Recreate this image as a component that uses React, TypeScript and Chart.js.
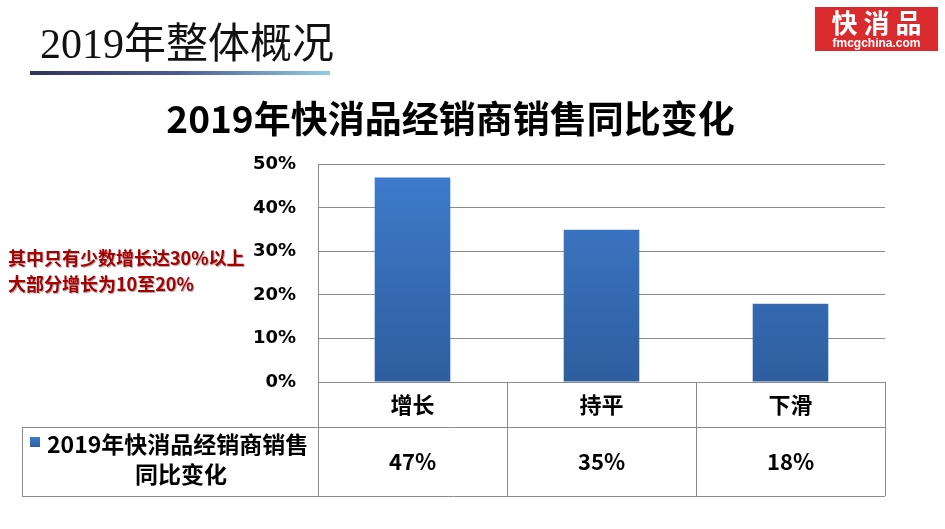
import React, { useEffect, useRef } from "react";
import { Chart, registerables } from "chart.js";

Chart.register(...registerables);

const pageHeading = "2019年整体概况";
const chartTitle = "2019年快消品经销商销售同比变化";
const categories = ["增长", "持平", "下滑"];
const seriesLines = ["2019年快消品经销商销售", "同比变化"];
const values = [47, 35, 18];
const yMax = 50;
const yStep = 10;
const noteLines = ["其中只有少数增长达30%以上", "大部分增长为10至20%"];

const CJK = '"Noto Sans CJK SC", "Noto Sans", sans-serif';
const TABLE_LEFT = 22;
const TABLE_ROW = 427;
const TABLE_BOTTOM = 496;
const LINE = "#8c8c8c";

function barGradient(ctx: CanvasRenderingContext2D, top: number, bottom: number) {
  const g = ctx.createLinearGradient(0, top, 0, bottom);
  g.addColorStop(0, "#3f7cce");
  g.addColorStop(1, "#2e5e9e");
  return g;
}

const tablePlugin = {
  id: "dataTable",
  afterDraw(chart: any) {
    const { ctx, chartArea, scales } = chart;
    const x = scales.x;
    const n = categories.length;
    const half = (x.getPixelForValue(1) - x.getPixelForValue(0)) / 2;
    const edges: number[] = [];
    for (let i = 0; i < n; i++) edges.push(x.getPixelForValue(i) - half);
    edges.push(x.getPixelForValue(n - 1) + half);
    const top = chartArea.bottom;
    ctx.save();
    ctx.strokeStyle = LINE;
    ctx.lineWidth = 1;
    ctx.beginPath();
    edges.forEach((e) => {
      ctx.moveTo(Math.round(e) + 0.5, top);
      ctx.lineTo(Math.round(e) + 0.5, TABLE_BOTTOM);
    });
    ctx.moveTo(TABLE_LEFT + 0.5, TABLE_ROW);
    ctx.lineTo(TABLE_LEFT + 0.5, TABLE_BOTTOM);
    ctx.moveTo(TABLE_LEFT, TABLE_ROW + 0.5);
    ctx.lineTo(edges[n], TABLE_ROW + 0.5);
    ctx.moveTo(TABLE_LEFT, TABLE_BOTTOM + 0.5);
    ctx.lineTo(edges[n], TABLE_BOTTOM + 0.5);
    ctx.stroke();

    // values row
    const midRow = (TABLE_ROW + TABLE_BOTTOM) / 2;
    ctx.fillStyle = "#000";
    ctx.font = `bold 22px ${CJK}`;
    ctx.textAlign = "center";
    ctx.textBaseline = "middle";
    values.forEach((v, i) => {
      ctx.fillText(`${v}%`, x.getPixelForValue(i), midRow);
    });

    // legend cell
    ctx.fillStyle = barGradient(ctx, 437, 447);
    ctx.fillRect(30, 437, 10, 10);
    ctx.fillStyle = "#000";
    ctx.font = `bold 23px ${CJK}`;
    ctx.textAlign = "left";
    ctx.fillText(seriesLines[0], 47, 444);
    ctx.textAlign = "center";
    ctx.fillText(seriesLines[1], 181, 474);
    ctx.restore();
  },
};

export default function App() {
  const ref = useRef<HTMLCanvasElement | null>(null);

  useEffect(() => {
    if (!ref.current) return;
    const chart = new Chart(ref.current, {
      type: "bar",
      data: {
        labels: categories,
        datasets: [
          {
            label: chartTitle,
            data: values,
            backgroundColor: (c: any) => {
              const area = c.chart.chartArea;
              if (!area) return "#3a72bd";
              return barGradient(c.chart.ctx, area.top, area.bottom);
            },
            borderWidth: 0,
            categoryPercentage: 1,
            barPercentage: 0.4,
          },
        ],
      },
      options: {
        animation: false,
        responsive: false,
        devicePixelRatio: 1,
        layout: { padding: { top: 0, left: 16, right: 60, bottom: 0 } },
        plugins: {
          legend: { display: false },
          tooltip: { enabled: false },
          title: {
            display: true,
            text: chartTitle,
            color: "#000",
            font: { size: 37, weight: "bold", family: CJK },
            padding: { top: 97, bottom: 23 },
          },
        },
        scales: {
          x: {
            grid: { display: false, drawTicks: false },
            border: { display: false },
            ticks: {
              color: "#000",
              font: { size: 22, weight: "bold", family: CJK },
              padding: 9,
            },
            afterFit: (s: any) => {
              s.height = 147;
            },
          },
          y: {
            min: 0,
            max: yMax,
            ticks: {
              stepSize: yStep,
              callback: (v: any) => `${v}%`,
              color: "#000",
              font: { size: 18, weight: "bold", family: '"DejaVu Sans", sans-serif' },
              padding: 22,
            },
            grid: { color: LINE, drawTicks: false },
            border: { display: true, color: LINE },
            afterFit: (s: any) => {
              s.width = 302;
            },
          },
        },
      },
      plugins: [tablePlugin],
    });
    return () => chart.destroy();
  }, []);

  return (
    <div
      style={{
        position: "absolute",
        left: 0,
        top: 0,
        width: 945,
        height: 529,
        background: "#fff",
        overflow: "hidden",
      }}
    >
      <canvas
        ref={ref}
        width={945}
        height={529}
        style={{ position: "absolute", left: 0, top: 0, width: 945, height: 529 }}
      />
      <div
        style={{
          position: "absolute",
          left: 40,
          top: 23,
          fontFamily: '"Liberation Serif", "DejaVu Serif", "Noto Sans CJK SC", serif',
          fontSize: 42,
          lineHeight: "43px",
          color: "#111",
          whiteSpace: "nowrap",
        }}
      >
        {pageHeading}
      </div>
      <div
        style={{
          position: "absolute",
          left: 30,
          top: 71,
          width: 300,
          height: 4,
          background: "linear-gradient(to right, #33335a, #4a5c98 50%, #92cde2)",
        }}
      />
      <div
        style={{
          position: "absolute",
          left: 815,
          top: 7,
          width: 123,
          height: 44,
          background: "#d92a2e",
          color: "#fff",
          textAlign: "center",
          fontFamily: CJK,
        }}
      >
        <div style={{ fontSize: 26, fontWeight: "bold", lineHeight: "30px", letterSpacing: 6, paddingLeft: 6 }}>
          快消品
        </div>
        <div style={{ fontSize: 12, fontWeight: "bold", lineHeight: "12px", fontFamily: '"Liberation Sans", Arial, sans-serif' }}>
          fmcgchina.com
        </div>
      </div>
      <div
        style={{
          position: "absolute",
          left: 8,
          top: 244,
          fontFamily: CJK,
          fontSize: 18,
          fontWeight: "bold",
          lineHeight: "26px",
          color: "#a80000",
          textShadow: "1px 1px 1px rgba(0,0,0,0.35)",
          whiteSpace: "nowrap",
        }}
      >
        {noteLines.map((t, i) => (
          <div key={i}>{t}</div>
        ))}
      </div>
    </div>
  );
}
